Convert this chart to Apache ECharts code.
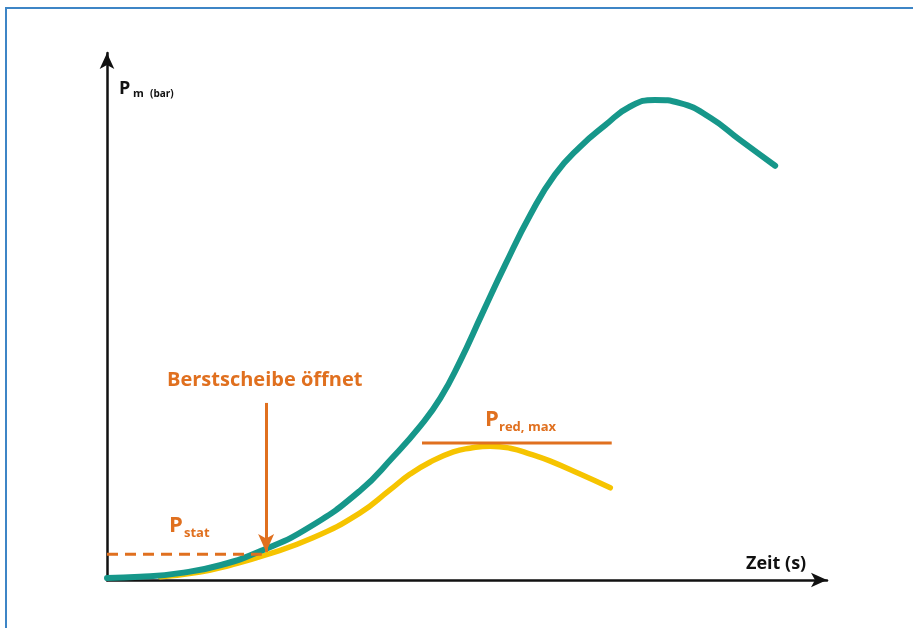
<!DOCTYPE html>
<html>
<head>
<meta charset="utf-8">
<script src="https://cdn.jsdelivr.net/npm/echarts@6/dist/echarts.min.js"></script>
<style>
	html, body { margin: 0; padding: 0; background: #fff; }
	#chart { width: 913px; height: 628px; }
</style>
</head>
<body>
<div id="chart"></div>
<script>
	// Zeit und Druck in % der Achsenlänge (das Original hat keine Skala)
	var teal_t = [0, 4.6, 10.1, 15.7, 21.7, 28.2, 35.1, 39.7, 43.5, 46.3, 49.0, 52.1, 55.3, 58.8, 62.2, 65.7, 69.2, 72.6, 76.1, 79.6, 83.8, 87.9, 92.8]
	var teal_p = [0.4, 0.6, 1.3, 2.8, 5.7, 10.1, 16.9, 23.3, 29.2, 34.5, 41.4, 50.5, 59.8, 69.3, 76.9, 82.2, 86.3, 89.8, 91.1, 90.5, 87.7, 83.5, 78.6]

	var yellow_t = [7.4, 12.9, 17.1, 21.7, 28.6, 35.1, 39.3, 42.1, 44.9, 48.1, 50.4, 53.2, 56.0, 58.8, 61.5, 65.7, 69.9]
	var yellow_p = [0.6, 1.5, 2.8, 4.6, 8.0, 12.7, 17.1, 20.1, 22.4, 24.3, 25.0, 25.4, 25.0, 23.9, 22.6, 20.1, 17.5]

	var pStat = 4.9
	var tBurst = 21.5
	var pRedMax = 26.0
	var redMaxRange = [43.75, 70.1]
	var arrowX = 22.1
	var arrowTop = 33.6

	function zip(a, b) {
		return a.map(function (v, i) { return [v, b[i]] })
	}

	var orange = '#e0701f'
	var chart = echarts.init(document.getElementById('chart'))
	chart.setOption({
		animation: false,
		grid: { left: 107, right: 86, top: 53, bottom: 48 },
		xAxis: {
			type: 'value', min: 0, max: 100,
			axisLine: { show: true, symbol: ['none', 'arrow'], symbolSize: [11, 16], lineStyle: { color: '#111', width: 2.5 } },
			axisTick: { show: false }, axisLabel: { show: false }, splitLine: { show: false }
		},
		yAxis: {
			type: 'value', min: 0, max: 100,
			axisLine: { show: true, symbol: ['none', 'arrow'], symbolSize: [11, 16], lineStyle: { color: '#111', width: 2.5 } },
			axisTick: { show: false }, axisLabel: { show: false }, splitLine: { show: false }
		},
		series: [
			{
				type: 'line', smooth: 0.5, showSymbol: false, z: 3,
				data: zip(yellow_t, yellow_p),
				lineStyle: { color: '#f6c400', width: 5.5, cap: 'round' }
			},
			{
				type: 'line', smooth: 0.5, showSymbol: false, z: 4,
				data: zip(teal_t, teal_p),
				lineStyle: { color: '#16978a', width: 6, cap: 'round' }
			},
			{
				type: 'line', showSymbol: false, z: 5,
				data: [[0, pStat], [tBurst, pStat]],
				lineStyle: { color: orange, width: 3, type: [11, 7] }
			},
			{
				type: 'line', showSymbol: false, z: 5,
				data: [[redMaxRange[0], pRedMax], [redMaxRange[1], pRedMax]],
				lineStyle: { color: orange, width: 3 },
				markLine: {
					silent: true,
					symbol: ['none', 'arrow'],
					symbolSize: [12, 18],
					label: { show: false },
					lineStyle: { color: orange, width: 3, type: 'solid' },
					data: [[{ coord: [arrowX, arrowTop] }, { coord: [arrowX, pStat + 0.4] }]]
				}
			}
		],
		graphic: [
			{ type: 'rect', shape: { x: 6, y: 8, width: 930, height: 650 }, style: { fill: 'none', stroke: '#3d85c6', lineWidth: 2 }, silent: true },
			{ type: 'text', x: 119, y: 89, style: { text: 'P', font: 'bold 18px "Open Sans"', fill: '#111', verticalAlign: 'middle' } },
			{ type: 'text', x: 133, y: 94, style: { text: 'm', font: 'bold 11px "Open Sans"', fill: '#111', verticalAlign: 'middle' } },
			{ type: 'text', x: 150, y: 94, style: { text: '(bar)', font: 'bold 10px "Open Sans"', fill: '#111', verticalAlign: 'middle' } },
			{ type: 'text', x: 746, y: 564, style: { text: 'Zeit (s)', font: 'bold 18px "Open Sans"', fill: '#111', verticalAlign: 'middle' } },
			{ type: 'text', x: 167, y: 380, style: { text: 'Berstscheibe öffnet', font: 'bold 20px "Open Sans"', fill: orange, verticalAlign: 'middle' } },
			{ type: 'text', x: 169, y: 526, style: { text: 'P', font: 'bold 22px "Open Sans"', fill: orange, verticalAlign: 'middle' } },
			{ type: 'text', x: 184, y: 533, style: { text: 'stat', font: 'bold 13px "Open Sans"', fill: orange, verticalAlign: 'middle' } },
			{ type: 'text', x: 485, y: 420, style: { text: 'P', font: 'bold 22px "Open Sans"', fill: orange, verticalAlign: 'middle' } },
			{ type: 'text', x: 499, y: 427, style: { text: 'red, max', font: 'bold 13px "Open Sans"', fill: orange, verticalAlign: 'middle' } }
		]
	})
</script>
</body>
</html>
